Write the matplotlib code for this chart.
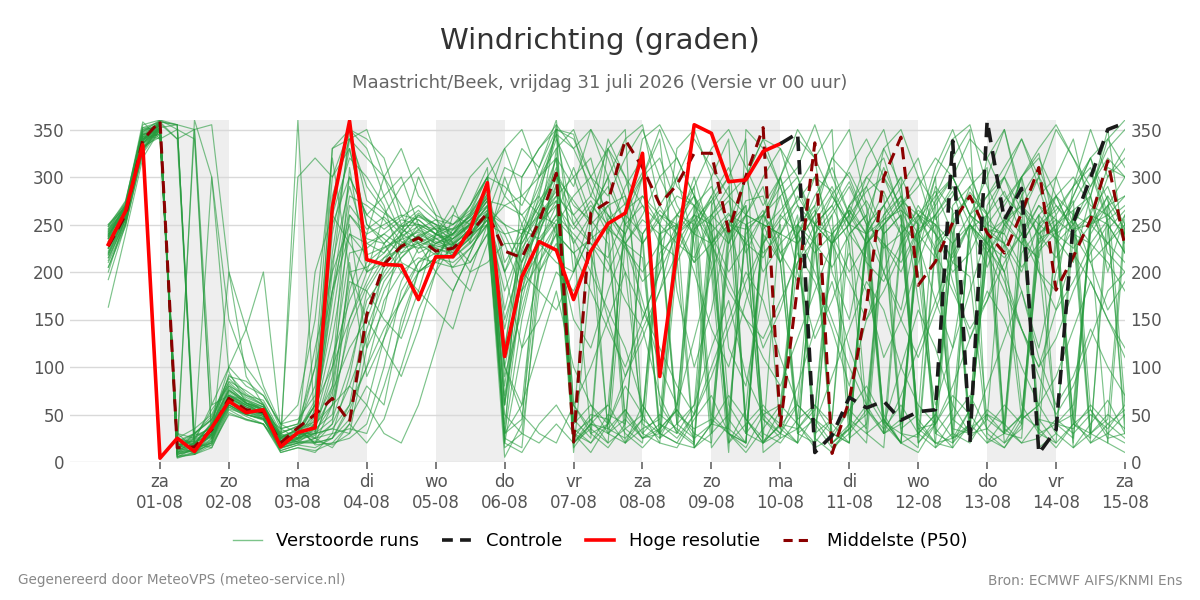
import numpy as np
import matplotlib
matplotlib.use("Agg")
import matplotlib.pyplot as plt
from matplotlib.lines import Line2D

# ---------------- data ----------------
# time axis: 6-hourly steps from 31-07 06:00 (day offset 0.25) to 15-08 00:00 (day offset 15)
n_steps = 60
day_names = ['za', 'zo', 'ma', 'di', 'wo', 'do', 'vr', 'za', 'zo', 'ma', 'di', 'wo', 'do', 'vr', 'za']
day_dates = ['01-08', '02-08', '03-08', '04-08', '05-08', '06-08', '07-08', '08-08',
             '09-08', '10-08', '11-08', '12-08', '13-08', '14-08', '15-08']
shaded_days = [1, 3, 5, 7, 9, 11, 13]

hires = [229, 264, 334, 4, 25, 11, 36, 64, 52, 55,
         16, 31, 36, 268, 359, 213, 208, 207, 171, 216,
         216, 245, 294, 111, 195, 232, 223, 171, 222, 251,
         262, 325, 90, 222, 355, 346, 295, 297, 327, 335]

control = [335, 346, 10, 28, 68, 57, 64, 44, 53, 55,
           338, 20, 359, 255, 288, 9, 34, 252, 299, 350, 357]   # from step 39 to 59

p50 = [227, 260, 339, 359, 15, 16, 34, 67, 55, 53,
       20, 36, 50, 67, 42, 155, 208, 227, 236, 222,
       225, 241, 262, 222, 215, 253, 304, 21, 262, 274,
       339, 310, 271, 292, 325, 325, 243, 301, 352, 38,
       185, 336, 9, 65, 165, 300, 342, 186, 211, 252,
       280, 241, 220, 262, 310, 181, 216, 255, 317, 227]

members_txt = [
    "232 264 340 355 | 10 20 32 66 55 50 22 30 | 50 130 240 | 218 226 234 242 230 224 240 265 150 212 248 292 | 45 25 255 272 305 60 32 18 242 262 228 22 38 62 252 282 305 268 42 30 26 232 252 284 262 32 48 222 242 272 305 252 40",
    "225 258 345 350 | 8 12 25 70 60 55 18 25 | 30 35 60 | 160 205 230 245 235 228 245 270 230 230 265 310 | 230 260 300 35 20 240 250 15 30 220 260 290 210 40 20 230 270 300 320 260 200 35 15 40 240 255 230 215 300 340 260 230 210",
    "240 268 335 358 | 355 20 40 75 65 58 25 35 | 20 60 180 | 240 250 260 255 240 230 250 280 60 180 240 300 | 260 280 330 350 40 25 60 245 275 300 30 20 55 210 235 260 45 30 15 230 255 280 320 350 20 45 235 270 255 40 25 270 300",
    "218 255 330 348 | 5 15 28 60 50 45 15 20 | 35 90 310 | 200 215 225 230 218 235 248 258 200 235 270 320 | 30 45 20 35 50 240 260 280 230 30 15 50 60 240 265 230 250 300 280 40 230 250 210 195 30 15 40 260 280 240 20 30 50",
    "235 270 348 360 | 350 340 30 68 58 52 28 32 | 60 210 290 | 230 240 255 250 245 215 232 290 110 200 260 285 | 250 275 240 290 320 250 40 60 270 300 340 10 25 250 230 205 240 260 30 40 240 275 300 260 245 230 60 30 245 280 320 275 245",
    "245 266 342 345 | 15 25 38 80 70 60 30 38 | 25 15 40 | 140 190 215 235 225 220 235 255 30 150 230 270 | 20 40 35 55 30 20 210 250 280 230 260 250 210 30 45 20 35 60 250 270 240 215 250 280 260 35 20 45 40 35 60 40 25",
    "228 260 336 352 | 10 360 300 95 62 55 20 28 | 40 240 330 | 250 235 220 228 235 240 255 275 270 260 280 350 | 345 280 260 230 215 40 25 50 230 255 230 215 250 30 20 240 260 285 300 255 20 45 230 250 205 250 270 300 240 15 30 245 265",
    "210 250 325 350 | 20 8 22 58 48 40 12 18 | 15 25 55 | 100 170 200 215 210 205 225 250 240 245 235 260 | 310 260 30 20 45 220 240 290 50 30 20 250 240 270 230 15 35 50 250 270 300 240 20 40 220 245 300 325 240 255 230 20 10",
    "238 272 350 358 | 30 15 20 72 60 50 35 40 | 80 300 350 | 275 262 248 258 250 230 245 295 25 15 200 330 | 60 30 40 260 300 350 290 270 250 20 40 60 35 240 270 320 300 255 225 240 45 20 15 260 300 350 270 250 235 210 280 350 220",
    "222 262 332 342 | 6 10 35 64 52 48 10 15 | 10 30 90 | 180 210 240 260 245 225 240 258 120 220 280 240 | 220 235 250 200 45 30 20 15 40 230 275 280 220 240 25 10 40 230 255 265 250 30 20 55 245 240 205 230 250 265 30 45 255",
    "248 275 352 358 | 355 350 355 200 90 60 22 30 | 38 70 200 | 205 220 245 262 250 240 260 285 200 250 290 345 | 250 230 215 260 240 30 55 270 290 250 235 20 40 250 300 285 240 215 50 20 240 260 285 230 45 30 270 240 215 245 260 310 300",
    "200 258 340 355 | 12 30 45 85 75 62 28 25 | 55 150 270 | 245 258 240 230 240 250 262 300 15 30 180 250 | 35 20 50 40 240 270 300 230 15 40 250 260 235 45 60 30 20 240 270 300 260 225 30 20 50 40 230 260 235 40 245 280 60",
    "242 268 345 340 | 25 20 15 55 45 40 18 22 | 30 45 100 | 170 195 220 240 230 235 250 268 250 240 270 300 | 275 250 340 300 230 255 280 270 30 50 240 265 210 250 270 20 35 245 285 240 260 250 25 55 270 300 250 30 40 60 240 270 230",
    "228 265 338 356 | 18 22 60 100 80 70 40 45 | 70 260 320 | 300 270 210 200 215 245 255 270 60 200 250 280 | 300 320 250 20 35 45 260 240 230 250 45 25 260 290 320 350 40 20 230 200 245 300 45 30 250 275 300 15 30 240 260 250 220",
    "235 262 330 350 | 8 14 20 58 50 46 14 20 | 22 18 30 | 60 130 190 225 228 222 238 260 100 190 220 250 | 15 40 30 55 25 40 30 245 260 290 45 20 40 35 55 245 265 240 40 20 30 50 230 260 245 20 35 225 250 275 55 30 20",
    "250 268 355 360 | 5 8 30 70 65 55 25 30 | 100 330 340 | 320 300 270 245 255 250 265 300 290 270 310 360 | 200 260 300 340 355 270 240 260 250 230 300 340 330 270 250 240 200 230 260 290 320 255 280 310 240 230 280 310 260 290 320 340 310",
    "220 260 335 348 | 10 18 42 76 62 58 20 25 | 35 50 150 | 190 230 250 265 245 235 255 278 30 60 230 260 | 240 220 35 25 45 250 230 215 260 240 270 30 20 45 220 240 265 230 30 45 220 290 265 40 20 30 220 245 270 245 250 230 250",
    "192 250 328 352 | 355 8 18 50 45 40 15 22 | 40 200 350 | 330 280 240 200 210 225 240 250 5 40 250 355 | 20 45 60 250 270 230 215 15 40 250 245 260 290 230 20 45 240 260 310 265 230 15 30 250 225 200 255 30 20 265 280 200 260",
    "230 266 346 355 | 15 28 35 92 72 60 30 38 | 18 20 25 | 40 100 180 210 220 215 230 255 180 230 260 275 | 25 50 45 20 60 30 230 260 300 340 30 55 40 20 250 270 230 30 45 20 240 270 35 30 55 40 20 25 45 30 50 35 60",
    "240 262 340 345 | 20 15 28 66 60 52 24 30 | 60 250 300 | 260 245 258 270 255 240 262 288 210 240 300 330 | 350 300 260 240 300 320 270 240 280 310 260 250 300 230 260 290 250 240 270 300 20 40 270 290 250 240 300 320 280 260 250 300 330",
    "225 255 342 350 | 12 20 40 100 140 200 35 25 | 45 110 170 | 210 225 238 248 236 220 236 262 80 210 245 275 | 230 30 15 40 240 265 245 300 235 20 55 240 210 260 30 45 270 290 240 260 35 40 260 280 240 200 45 60 230 250 280 220 200",
    "237 270 347 357 | 25 35 50 88 70 65 32 36 | 42 80 260 | 235 230 248 250 240 228 246 270 40 180 265 305 | 270 255 230 50 25 30 240 255 210 45 20 230 255 275 300 240 25 40 260 280 250 30 55 245 260 285 240 210 40 25 250 270 280",
    "215 252 334 352 | 4 10 24 62 56 48 16 24 | 28 75 120 | 150 200 225 238 226 230 242 262 250 210 260 320 | 60 35 20 230 255 240 40 25 260 280 300 240 35 20 240 265 295 250 45 20 260 285 240 25 45 260 240 280 300 250 30 20 245",
    "244 274 352 350 | 30 25 55 80 62 56 22 28 | 32 60 140 | 185 215 235 255 240 232 252 282 120 240 275 300 | 20 35 260 240 30 50 35 20 225 250 270 45 30 20 50 230 250 275 240 30 15 225 250 30 35 60 40 250 265 290 310 255 30",
    "232 258 330 352 | 10 12 30 60 50 45 12 18 | 25 40 80 | 130 180 215 232 225 218 236 255 140 225 252 270 | 245 270 250 225 200 230 260 250 40 35 250 220 240 280 250 230 260 55 30 240 265 250 230 40 220 250 230 260 40 50 250 260 240",
    "248 270 338 355 | 14 24 32 74 62 54 26 34 | 20 25 45 | 80 60 150 200 215 210 225 250 30 45 210 250 | 40 60 30 45 25 35 55 30 20 240 260 45 25 35 60 40 20 250 270 240 30 50 25 40 230 255 270 45 20 40 30 50 35",
    "205 248 326 356 | 340 350 60 70 58 50 18 26 | 48 170 280 | 270 255 232 225 238 246 258 278 160 235 285 340 | 300 250 270 280 230 260 240 210 255 275 220 260 280 300 240 20 40 230 250 275 260 240 215 250 280 300 265 240 255 240 230 255 270",
    "238 264 344 358 | 8 12 18 56 50 44 20 26 | 30 35 30 | 120 210 228 244 232 226 240 262 20 120 200 240 | 30 20 40 265 280 250 50 35 45 30 20 250 240 230 45 30 55 35 240 260 40 20 25 35 50 30 25 240 260 45 20 40 55",
    "226 262 336 350 | 16 30 48 84 68 60 26 32 | 65 280 340 | 290 265 245 235 248 238 250 275 330 280 300 345 | 330 290 245 230 260 300 320 280 250 35 20 260 300 240 280 310 260 230 250 35 50 280 300 260 230 270 300 230 280 300 270 260 240",
    "242 268 340 352 | 22 18 26 64 54 48 16 24 | 36 100 220 | 225 240 228 238 246 244 258 282 70 170 240 290 | 40 265 290 250 230 25 40 255 275 60 30 245 265 290 240 30 20 240 255 280 35 20 240 290 310 30 50 235 245 20 265 290 240",
    "163 240 320 350 | 20 30 25 60 50 45 20 30 | 120 200 250 | 120 160 240 300 260 200 180 230 300 250 200 230 | 150 120 180 230 170 100 60 130 200 250 180 120 160 220 190 140 80 150 200 250 230 170 120 180 240 200 140 100 160 220 190 150 120",
    "250 272 358 340 | 350 30 45 90 85 70 40 60 | 150 320 200 | 150 120 90 140 200 260 300 320 280 330 310 350 | 10 200 330 280 150 200 330 350 300 120 80 180 300 350 320 200 150 240 330 290 170 60 120 230 320 350 280 200 180 290 350 300 320",
    "212 256 330 345 | 15 10 20 200 140 80 40 30 | 25 80 190 | 180 150 130 180 240 270 230 250 200 120 150 200 | 180 220 150 90 130 180 250 200 140 100 170 230 280 200 130 170 220 180 110 150 210 260 190 130 170 230 180 120 200 260 210 160 190",
    "236 266 343 356 | 20 350 25 60 52 46 18 360 | 30 330 350 | 340 320 260 230 200 180 220 260 310 300 330 355 | 330 350 300 250 340 355 320 280 200 10 350 330 290 310 355 300 260 320 350 280 230 300 340 355 290 250 300 330 355 320 280 340 360",
    "220 258 338 360 | 355 12 30 66 58 50 30 20 | 20 40 210 | 90 130 170 210 230 240 270 300 100 60 120 180 | 100 60 40 90 140 70 30 60 120 170 90 50 30 80 140 190 120 70 40 100 160 120 60 30 80 130 180 110 60 90 140 100 70",
    "246 270 350 352 | 10 25 300 150 100 75 35 40 | 100 180 300 | 260 280 300 250 220 205 210 240 280 260 230 210 | 200 240 270 230 190 210 250 280 240 200 230 260 220 190 240 280 250 210 190 230 270 240 200 220 260 230 200 250 280 240 210 230 260",
    "230 262 340 350 | 25 18 40 70 55 50 25 35 | 40 60 80 | 60 30 20 60 120 180 220 260 20 10 40 60 | 30 10 40 80 50 20 15 45 70 30 10 35 60 40 15 25 55 80 45 20 10 40 70 50 25 15 45 60 30 15 40 65 30",
    "205 252 335 358 | 340 20 35 78 64 56 22 28 | 60 180 260 | 240 300 330 280 260 250 270 300 330 350 300 320 | 290 350 320 270 300 340 180 100 160 250 300 340 290 230 260 320 350 270 200 160 250 310 350 300 260 300 340 290 230 280 320 260 280",
    "240 265 345 350 | 12 20 30 64 56 50 15 20 | 25 30 35 | 30 80 140 200 240 260 250 260 100 50 30 20 | 60 100 150 200 160 120 80 50 100 150 200 170 110 60 40 90 140 190 160 100 60 40 80 130 180 150 100 60 90 140 190 150 110",
    "225 265 342 355 | 8 18 28 70 62 50 24 30 | 30 220 340 | 350 300 250 220 230 240 260 290 60 240 260 280 | 260 230 200 240 280 260 250 210 230 260 250 200 230 250 220 260 290 250 230 210 245 260 290 250 230 215 240 270 240 225 250 280 250",
    "218 258 330 355 | 10 14 22 62 54 46 18 22 | 20 25 60 | 100 140 170 200 215 240 250 265 240 200 180 160 | 200 240 210 170 140 180 220 260 230 180 150 130 170 210 250 230 190 150 180 220 260 220 180 140 170 210 240 200 160 190 230 210 180",
    "235 260 336 350 | 18 22 34 70 60 52 28 300 | 320 300 330 | 250 230 200 180 160 140 200 250 270 280 260 250 | 280 300 330 300 270 250 300 340 310 280 260 300 330 300 250 270 310 340 300 270 290 320 300 260 280 310 340 300 270 250 290 320 300",
    "228 262 338 355 | 6 8 15 52 44 40 10 15 | 12 20 40 | 20 45 100 160 200 230 210 240 50 30 20 40 | 20 40 60 30 15 35 55 25 40 70 45 20 30 60 40 15 30 55 35 60 30 15 45 70 35 20 50 35 15 40 55 25 30",
    "243 270 348 356 | 22 30 44 82 66 58 26 34 | 60 100 150 | 200 260 290 310 270 230 200 210 230 180 210 240 | 220 180 140 100 150 200 240 270 230 190 150 110 80 130 180 230 270 240 200 150 110 160 210 250 220 180 140 100 130 180 220 250 220",
    "215 255 332 352 | 14 20 30 62 54 50 20 24 | 40 180 240 | 230 220 240 260 250 245 270 310 20 300 330 350 | 340 300 280 320 350 300 260 290 330 350 310 270 300 340 320 280 250 290 330 350 300 270 300 340 320 280 260 300 350 320 290 330 350",
    "238 266 340 350 | 16 26 36 76 62 55 22 30 | 200 260 230 | 200 210 225 250 240 235 250 275 90 160 230 255 | 235 200 160 120 60 30 20 50 90 140 190 230 260 240 200 150 100 60 30 70 120 170 220 250 230 190 140 90 50 80 130 180 200",
]
members = [[float(v) for v in s.replace('|', ' ').split()] for s in members_txt]

yticks = [0, 50, 100, 150, 200, 250, 300, 350]

# ---------------- plot ----------------
x_all = 0.25 + 0.25 * np.arange(n_steps)

fig = plt.figure(figsize=(12, 6), dpi=100)
ax = fig.add_axes([70 / 1200, 1 - 462 / 600, (1125 - 70) / 1200, (462 - 120) / 600])

for d in shaded_days:
    ax.axvspan(d, d + 1, color='#eeeeee', lw=0, zorder=0)

ax.set_ylim(0, 360)
ax.set_xlim(1 - 90 / 68.93, 15)
ax.set_yticks(yticks)
ax.grid(axis='y', color='#d9d9d9', lw=1, zorder=1)
ax.set_axisbelow(True)

for m in members:
    ax.plot(x_all[:len(m)], m, color='#269b3d', lw=0.85, alpha=0.6, zorder=2)

ax.plot(x_all[:len(p50)], p50, color='#8b0000', lw=2.2, ls=(0, (4, 2.5)), zorder=4)
ax.plot(x_all[:len(hires)], hires, color='#ff0000', lw=2.6, zorder=5)
ax.plot(x_all[39:39 + len(control)], control, color='#1a1a1a', lw=2.6, ls=(0, (4, 2.5)), zorder=5)

ax.set_xticks(np.arange(1, 16))
ax.set_xticklabels([f"{a}\n{b}" for a, b in zip(day_names, day_dates)])
ax.tick_params(axis='x', length=5, width=1.2, color='#666666', labelcolor='#555555', labelsize=12, pad=3)
ax.tick_params(axis='y', length=0, labelcolor='#555555', labelsize=12, pad=4)
for sp in ax.spines.values():
    sp.set_visible(False)

ax2 = ax.twinx()
ax2.set_ylim(0, 360)
ax2.set_yticks(yticks)
ax2.tick_params(axis='y', length=0, labelcolor='#555555', labelsize=12, pad=4)
for sp in ax2.spines.values():
    sp.set_visible(False)

fig.text(0.5, 1 - 41 / 600, "Windrichting (graden)", ha='center', va='center', fontsize=21, color='#333333')
fig.text(0.5, 1 - 83 / 600, "Maastricht/Beek, vrijdag 31 juli 2026 (Versie vr 00 uur)", ha='center', va='center',
         fontsize=13, color='#666666')

handles = [
    Line2D([], [], color='#7cc48a', lw=1),
    Line2D([], [], color='#1a1a1a', lw=2.6, ls=(0, (3, 2))),
    Line2D([], [], color='#ff0000', lw=2.6),
    Line2D([], [], color='#8b0000', lw=2.2, ls=(0, (3, 2))),
]
labels = ["Verstoorde runs", "Controle", "Hoge resolutie", "Middelste (P50)"]
fig.legend(handles, labels, loc='center', bbox_to_anchor=(0.5, 1 - 541 / 600), ncol=4, frameon=False,
           fontsize=13, handlelength=1.6, columnspacing=1.3, handletextpad=0.8)

fig.text(18 / 1200, 1 - 580 / 600, "Gegenereerd door MeteoVPS (meteo-service.nl)", ha='left', va='center',
         fontsize=9.8, color='#888888')
fig.text(1182 / 1200, 1 - 580 / 600, "Bron: ECMWF AIFS/KNMI Ens", ha='right', va='center',
         fontsize=9.8, color='#888888')

fig.savefig("out.png", dpi=100)
